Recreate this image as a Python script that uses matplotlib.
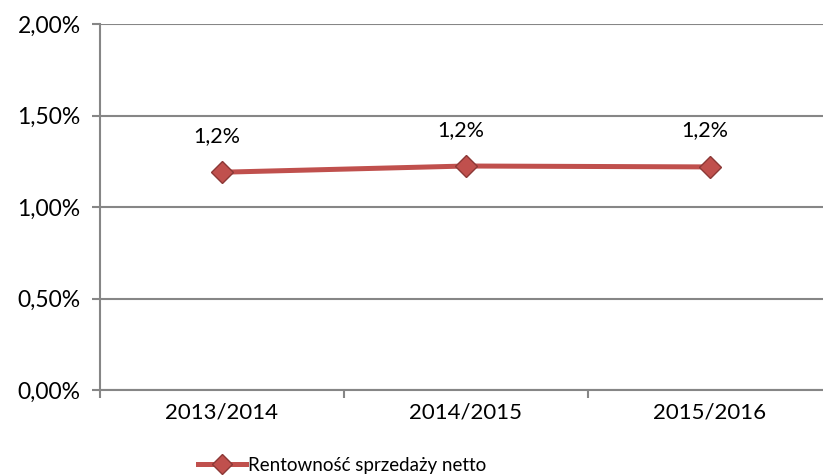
import matplotlib.pyplot as plt
from matplotlib.ticker import FuncFormatter

plt.rcParams['font.family'] = ['Lato', 'DejaVu Sans']

years = ['2013/2014', '2014/2015', '2015/2016']
rentownosc = [1.19, 1.224, 1.219]  # w %
labels = ['1,2%', '1,2%', '1,2%']
series_name = 'Rentowność sprzedaży netto'

line_col = '#C0504D'
edge_col = '#8C3836'
grid_col = '#868686'

fig = plt.figure(figsize=(8.23, 4.75), dpi=100)
ax = fig.add_axes([100 / 823, 85 / 475, 732 / 823, 366 / 475])

x = list(range(len(years)))
ax.plot(x, rentownosc, color=line_col, lw=3.6, marker='D', ms=11.5,
        markerfacecolor=line_col, markeredgecolor=edge_col, markeredgewidth=1,
        label=series_name, zorder=3)

for xi, v, t in zip(x, rentownosc, labels):
    ax.annotate(t, (xi, v), xytext=(-4, 19), textcoords='offset points',
                ha='center', va='bottom', fontsize=15.5)

ax.set_xlim(-0.5, len(years) - 0.5)
ax.set_ylim(0, 2.0)
ax.set_yticks([0, 0.5, 1.0, 1.5, 2.0])
ax.yaxis.set_major_formatter(FuncFormatter(lambda v, p: ('%.2f%%' % v).replace('.', ',')))
ax.set_xticks(x)
ax.set_xticklabels(years)
ax.set_xticks([i - 0.5 for i in range(len(years) + 1)], minor=True)
ax.tick_params(axis='x', which='major', length=0, pad=9, labelsize=16)
ax.tick_params(axis='x', which='minor', length=6, width=1.5, color=grid_col, direction='out')
ax.tick_params(axis='y', length=6, width=1.5, color=grid_col, pad=8, labelsize=16.5)

ax.grid(axis='y', color=grid_col, lw=1.5)
ax.set_axisbelow(True)
for s in ['top', 'right']:
    ax.spines[s].set_visible(False)
for s in ['left', 'bottom']:
    ax.spines[s].set_color(grid_col)
    ax.spines[s].set_linewidth(1.5)

fig.legend(loc='center', bbox_to_anchor=(342 / 823, 1 - 465 / 475), frameon=False,
           fontsize=13.5, handlelength=2.6, handletextpad=0.1, markerscale=0.9)

plt.savefig('out.png', dpi=100)
